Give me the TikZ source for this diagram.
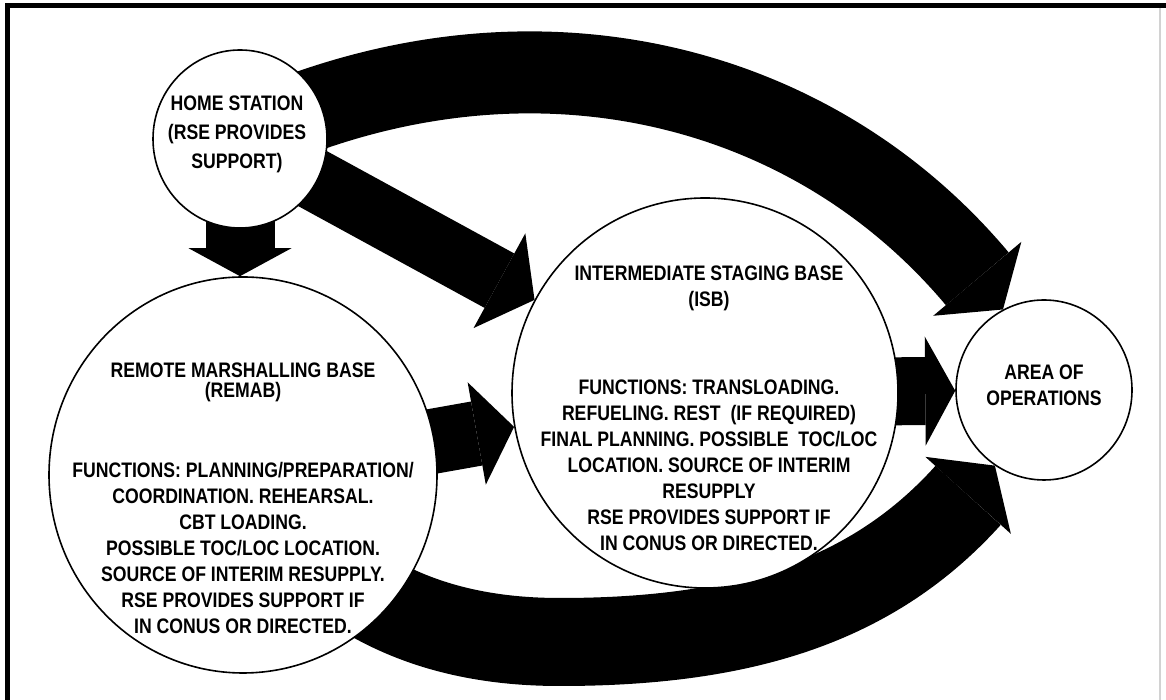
\documentclass[tikz,border=0pt]{standalone}
\usepackage{fontspec}
\newfontfamily\stencil{Liberation Sans Bold}[FakeStretch=0.84]
\usetikzlibrary{arrows.meta}
\usetikzlibrary{shapes.geometric}
\usetikzlibrary{backgrounds}

\begin{document}
\begin{tikzpicture}[x=1pt, y=1pt,
                    site/.style={ellipse, draw, fill=white, line width=1.6pt, inner sep=0pt},
                    txt/.style={align=center, font=\stencil\fontsize{21}{26}\selectfont},
                    fat/.style n args={3}{line width=#1,
                        -{Triangle[width=#2, length=#3, line width=0pt]}},
                    ]
  \useasboundingbox (0,0) rectangle (1166,700);
  % frame
  \draw[line width=5pt] (7.5,0) -- (7.5,694.5) -- (1166,694.5);
  \draw[gray!35, line width=1.5pt] (1160,0) -- (1160,692);

  \node[site, minimum width=174pt, minimum height=178pt] (hs) at (240,561) {};
  \node[site, minimum width=388pt, minimum height=396pt] (remab) at (243,225) {};
  \node[site, minimum width=386pt, minimum height=390pt] (isb) at (705,307) {};
  \node[site, minimum width=176pt, minimum height=180pt] (ao) at (1044,310) {};
  \coordinate (dip) at (560,58);

  \node[txt] (hs-txt) at (237,566) {HOME STATION\\[3pt](RSE PROVIDES\\[3pt]SUPPORT)};
  \node[txt] (remab-txt) at (243,201.5) {REMOTE MARSHALLING BASE\\[-6pt](REMAB)\\[54pt]
    FUNCTIONS: PLANNING/PREPARATION/\\COORDINATION. REHEARSAL.\\CBT LOADING.\\
    POSSIBLE TOC/LOC LOCATION.\\SOURCE OF INTERIM RESUPPLY.\\
    RSE PROVIDES SUPPORT IF\\IN CONUS OR DIRECTED.};
  \node[txt] (isb-txt) at (709,291.5) {INTERMEDIATE STAGING BASE\\(ISB)\\[62pt]
    FUNCTIONS: TRANSLOADING.\\REFUELING. REST\ \ (IF REQUIRED)\\
    FINAL PLANNING. POSSIBLE\ \ TOC/LOC\\LOCATION. SOURCE OF INTERIM\\RESUPPLY\\
    RSE PROVIDES SUPPORT IF\\IN CONUS OR DIRECTED.};
  \node[txt] (ao-txt) at (1044,315) {AREA OF\\OPERATIONS};

  \begin{scope}[on background layer]
    \draw[fat={69pt}{103pt}{28pt}] (hs.center) -- (hs.center |- remab.north);
    \draw[fat={62pt}{108pt}{40pt}] (hs.center) -- (isb);
    \draw[fat={82pt}{115pt}{40pt}] (hs.center) to[out=25, in=130] (ao.117);
    \draw[fat={65pt}{104pt}{38pt}] (remab.center) -- (isb);
    \draw[fat={68pt}{109pt}{30pt}] (isb.center) -- (ao);
    \draw[fat={88pt}{115pt}{40pt}] (remab.center) to[out=-55, in=180] (dip)
                                    to[out=0, in=228] (ao.237);
  \end{scope}
\end{tikzpicture}
\end{document}
